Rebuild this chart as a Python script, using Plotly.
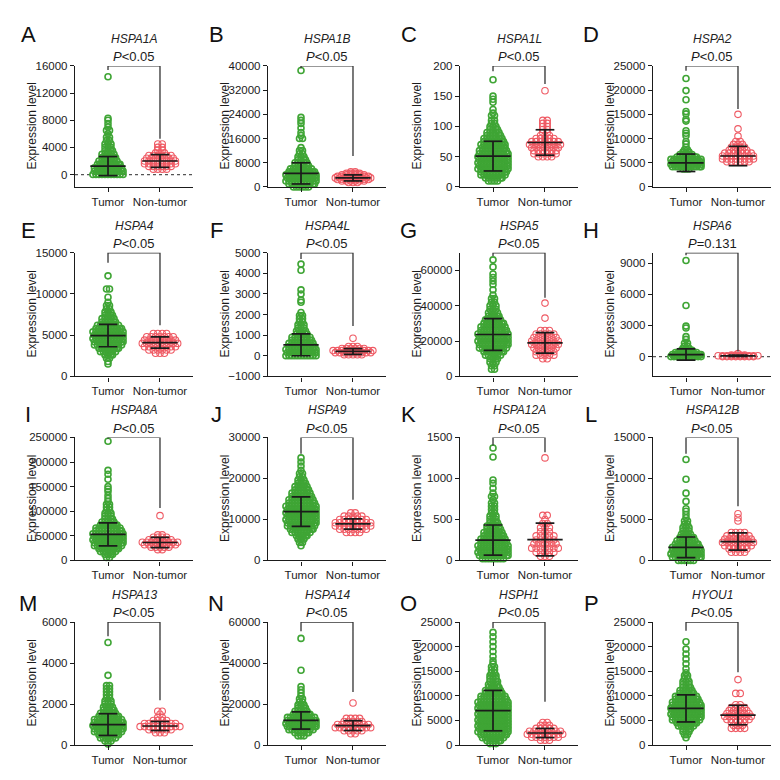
import plotly.graph_objects as go

W = H = 780
FONT = "Liberation Sans, Arial, sans-serif"

LETTERS = list("ABCDEFGHIJKLMNOP")
GENES = ["HSPA1A", "HSPA1B", "HSPA1L", "HSPA2", "HSPA4", "HSPA4L", "HSPA5", "HSPA6",
         "HSPA8A", "HSPA9", "HSPA12A", "HSPA12B", "HSPA13", "HSPA14", "HSPH1", "HYOU1"]
P_TEXT = ["&lt;0.05"] * 7 + ["=0.131"] + ["&lt;0.05"] * 8
CATEGORIES = ["Tumor", "Non-tumor"]

Y_MIN = [-1830, 0, 0, 0, 0, -1000, 0, -1900, 0, 0, 0, 0, 0, 0, 0, 0]
Y_MAX = [16000, 40000, 200, 25000, 15000, 5000, 70000, 10000, 250000, 30000, 1500, 15000, 6000, 60000, 25000, 25000]
Y_DTICK = [4000, 8000, 50, 5000, 5000, 1000, 20000, 3000, 50000, 10000, 500, 5000, 2000, 20000, 5000, 5000]
ZERO_LINE = [True, False, False, False, False, False, False, True, False, False, False, False, False, False, False, False]

TUMOR_MEAN = [1250, 4500, 51, 5000, 4950, 530, 23700, 200, 53000, 11900, 248, 1600, 1000, 12000, 7000, 7450]
TUMOR_SD = [1400, 3500, 24.5, 1800, 1360, 530, 9000, 540, 23500, 3600, 184, 1260, 530, 4200, 4100, 2750]
NORMAL_MEAN = [2000, 3000, 73.5, 6400, 4100, 210, 19000, 80, 36500, 8900, 255, 2300, 930, 9500, 2450, 6100]
NORMAL_SD = [940, 1000, 21, 2000, 680, 140, 5800, 60, 10500, 1250, 200, 1050, 220, 2400, 930, 1970]

LEG_TUMOR = [15400, 39200, 191, 24000, 13800, 4700, 68200, 9750, 247000, 26000, 1400, 13000, 5310, 55500, 23800, 23200]
LEG_NORMAL = [5260, 10200, 170, 16100, 6200, 1440, 44500, 500, 106700, 14800, 1320, 6600, 2190, 25900, 8800, 14800]

A_TUMOR = [(0, 11), (500, 11), (1000, 10), (1500, 9), (2000, 7), (2500, 6), (3000, 5), (3500, 4), (4000, 3), (4500, 3),
           (5000, 2), (5500, 2), (6000, 1), (6500, 2), (7000, 1), (7500, 1), (8000, 1), (8300, 1), (14400, 1)]
A_NORMAL = [(800, 4), (1200, 6), (1600, 8), (2000, 8), (2400, 7), (2800, 6), (3200, 3), (3600, 2), (4000, 2), (4500, 2)]
B_TUMOR = [(0, 6), (1000, 10), (2000, 11), (3000, 11), (4000, 11), (5000, 10), (6000, 8), (7000, 6), (8000, 5), (9000, 4),
           (10000, 3), (11000, 2), (12000, 2), (13000, 1), (16000, 2), (17000, 1), (18000, 1), (19500, 1), (21000, 1),
           (22000, 1), (23000, 1), (38500, 1)]
B_NORMAL = [(1500, 3), (2000, 6), (2500, 8), (3000, 9), (3500, 8), (4000, 6), (4500, 4), (5000, 2)]
C_TUMOR = [(10, 4), (15, 7), (20, 9), (25, 10), (30, 11), (35, 11), (40, 11), (45, 11), (50, 11), (55, 11), (60, 10),
           (65, 9), (70, 9), (75, 8), (80, 7), (85, 6), (90, 5), (95, 4), (100, 3), (105, 2), (110, 2), (118, 2),
           (122, 1), (128, 1), (140, 1), (145, 1), (150, 1), (177, 1)]
C_NORMAL = [(50, 4), (55, 6), (60, 6), (65, 7), (70, 8), (75, 7), (80, 5), (85, 3), (90, 2), (95, 2), (100, 2),
            (105, 2), (110, 2), (159, 1)]
D_TUMOR = [(3700, 3), (4200, 11), (4700, 11), (5200, 11), (5700, 11), (6200, 8), (6700, 5), (7200, 3), (7700, 2),
           (8200, 1), (8900, 1), (9400, 1), (10600, 1), (11100, 1), (11600, 1), (13600, 1), (14000, 1), (15100, 1),
           (15600, 1), (18000, 1), (19900, 1), (22400, 1)]
D_NORMAL = [(5200, 6), (5800, 8), (6400, 8), (7000, 7), (7600, 5), (8200, 4), (8800, 3), (9400, 2), (10500, 1),
            (12000, 1), (15000, 1)]
E_TUMOR = [(1500, 1), (1800, 1), (2200, 2), (2600, 4), (3000, 6), (3400, 8), (3800, 10), (4200, 11), (4600, 11),
           (5000, 11), (5400, 11), (5800, 10), (6200, 8), (6600, 6), (7000, 5), (7400, 4), (7800, 3), (8200, 2),
           (8600, 2), (9000, 1), (9600, 1), (10600, 2), (12200, 1)]
E_NORMAL = [(2800, 3), (3200, 6), (3600, 8), (4000, 9), (4400, 8), (4800, 7), (5200, 4)]
F_TUMOR = [(0, 11), (150, 11), (300, 11), (450, 10), (600, 9), (750, 8), (900, 7), (1050, 5), (1200, 4), (1350, 3),
           (1500, 3), (1650, 2), (1800, 2), (1950, 2), (2100, 1), (2600, 1), (2700, 1), (3000, 1), (3200, 1),
           (4150, 1), (4450, 1)]
F_NORMAL = [(50, 5), (150, 9), (250, 10), (350, 6), (450, 3), (850, 1)]
G_TUMOR = [(4000, 2), (6000, 2), (8000, 3), (10000, 4), (12000, 6), (14000, 8), (16000, 10), (18000, 11), (20000, 11),
           (22000, 11), (24000, 11), (26000, 10), (28000, 9), (30000, 8), (32000, 6), (34000, 5), (36000, 4),
           (38000, 3), (40000, 3), (42000, 2), (44000, 2), (46000, 1), (49000, 1), (52000, 1), (54000, 1),
           (56000, 1), (58000, 1), (62000, 1), (66000, 1)]
G_NORMAL = [(10000, 2), (12000, 5), (14000, 5), (16000, 6), (18000, 7), (20000, 7), (22000, 6), (24000, 5),
            (26000, 3), (33000, 1), (41500, 1)]
H_TUMOR = [(0, 11), (200, 11), (400, 8), (600, 5), (800, 3), (1000, 2), (1280, 2), (1660, 1), (1920, 1),
           (2750, 1), (2940, 1), (4920, 1), (9260, 1)]
H_NORMAL = [(0, 8), (80, 10), (160, 4), (300, 1)]
I_TUMOR = [(6000, 2), (12000, 4), (18000, 6), (24000, 8), (30000, 10), (36000, 11), (42000, 11), (48000, 11),
           (54000, 11), (60000, 10), (66000, 9), (72000, 7), (78000, 5), (84000, 4), (90000, 3), (96000, 3),
           (102000, 2), (108000, 2), (114000, 2), (120000, 1), (126000, 1), (132000, 1), (140000, 1), (145000, 1),
           (150000, 1), (165000, 1), (175000, 1), (183000, 1), (242000, 1)]
I_NORMAL = [(22000, 2), (27000, 5), (32000, 8), (37000, 9), (42000, 6), (47000, 4), (52000, 2), (91000, 1)]
J_TUMOR = [(3600, 1), (4400, 2), (5200, 3), (6000, 5), (6800, 7), (7600, 9), (8400, 10), (9200, 11), (10000, 11),
           (10800, 11), (11600, 11), (12400, 11), (13200, 11), (14000, 10), (14800, 9), (15600, 8), (16400, 7),
           (17200, 6), (18000, 5), (18800, 4), (19600, 3), (20400, 2), (21200, 2), (22000, 1), (23000, 1),
           (24000, 1), (25000, 1)]
J_NORMAL = [(6800, 4), (7600, 7), (8400, 9), (9200, 9), (10000, 7), (10800, 5), (11600, 2)]
K_TUMOR = [(20, 8), (60, 11), (100, 11), (140, 11), (180, 11), (220, 10), (260, 9), (300, 8), (340, 7), (380, 6),
           (420, 5), (460, 4), (500, 3), (540, 3), (580, 2), (620, 2), (660, 2), (700, 2), (740, 1), (780, 2),
           (820, 1), (880, 1), (940, 1), (980, 1), (1260, 1), (1370, 1)]
K_NORMAL = [(50, 3), (100, 5), (150, 7), (200, 6), (250, 5), (300, 5), (350, 3), (400, 3), (450, 2), (500, 1),
            (550, 2), (1250, 1)]
L_TUMOR = [(0, 6), (400, 11), (800, 11), (1200, 11), (1600, 10), (2000, 9), (2400, 7), (2800, 6), (3200, 4),
           (3600, 3), (4000, 3), (4400, 2), (4800, 2), (5200, 1), (5600, 1), (6000, 1), (6300, 1), (7200, 1),
           (8200, 1), (9900, 1), (12300, 1)]
L_NORMAL = [(1000, 4), (1400, 5), (1800, 7), (2200, 8), (2600, 7), (3000, 6), (3400, 4), (4800, 1), (5200, 1),
            (5700, 1)]
M_TUMOR = [(50, 1), (200, 3), (350, 6), (500, 8), (650, 10), (800, 11), (950, 11), (1100, 11), (1250, 10),
           (1400, 8), (1550, 6), (1700, 5), (1850, 4), (2000, 3), (2150, 3), (2300, 2), (2450, 2), (2600, 2),
           (2750, 2), (2900, 2), (3400, 1), (5000, 1)]
M_NORMAL = [(600, 3), (750, 6), (900, 10), (1050, 8), (1200, 4), (1350, 2), (1500, 1), (1650, 2)]
N_TUMOR = [(4500, 3), (6000, 6), (7500, 9), (9000, 11), (10500, 11), (12000, 11), (13500, 10), (15000, 7),
           (16500, 5), (18000, 4), (19500, 3), (21000, 2), (22500, 2), (24000, 1), (25500, 1), (27000, 1),
           (28500, 1), (36500, 1), (52000, 1)]
N_NORMAL = [(5500, 2), (7000, 5), (8500, 9), (10000, 8), (11500, 5), (13000, 4), (20500, 1)]
O_TUMOR = [(300, 3), (900, 6), (1500, 8), (2100, 10), (2700, 11), (3300, 11), (3900, 11), (4500, 11), (5100, 11),
           (5700, 11), (6300, 11), (6900, 11), (7500, 11), (8100, 11), (8700, 11), (9300, 10), (9900, 9),
           (10500, 7), (11100, 6), (11700, 5), (12300, 4), (12900, 4), (13500, 3), (14100, 3), (14700, 2),
           (15300, 2), (15900, 2), (16500, 1), (17100, 1), (18000, 1), (19000, 1), (20000, 1), (21000, 1),
           (22000, 1), (22900, 1)]
O_NORMAL = [(1000, 3), (1600, 7), (2200, 9), (2800, 8), (3400, 5), (4000, 3), (4600, 2)]
P_TUMOR = [(1500, 1), (2100, 2), (2700, 3), (3300, 4), (3900, 6), (4500, 8), (5100, 10), (5700, 11), (6300, 11),
           (6900, 11), (7500, 11), (8100, 11), (8700, 10), (9300, 9), (9900, 8), (10500, 6), (11100, 5),
           (11700, 4), (12300, 3), (12900, 3), (13500, 2), (14100, 2), (14700, 1), (15500, 1), (16500, 1),
           (17500, 1), (18500, 1), (19500, 1), (21000, 1)]
P_NORMAL = [(3400, 4), (4000, 3), (4600, 4), (5200, 6), (5800, 7), (6400, 6), (7000, 5), (7600, 4), (8200, 2),
            (10500, 2), (13300, 1)]

TUMOR_SETS = [A_TUMOR, B_TUMOR, C_TUMOR, D_TUMOR, E_TUMOR, F_TUMOR, G_TUMOR, H_TUMOR,
              I_TUMOR, J_TUMOR, K_TUMOR, L_TUMOR, M_TUMOR, N_TUMOR, O_TUMOR, P_TUMOR]
NORMAL_SETS = [A_NORMAL, B_NORMAL, C_NORMAL, D_NORMAL, E_NORMAL, F_NORMAL, G_NORMAL, H_NORMAL,
               I_NORMAL, J_NORMAL, K_NORMAL, L_NORMAL, M_NORMAL, N_NORMAL, O_NORMAL, P_NORMAL]

# layout geometry (pixels)
COL_AXIS = [67, 260, 452, 645]
PLOT_W = 118
ROW_TOP = [52.7, 242.5, 430, 617.5]
ROW_BOT = [175.7, 368, 555, 742.5]
LETTER_X = [20, 208, 401, 583]
LETTER_Y = [21, 220, 407, 599]
X_RANGE = [-0.635, 1.635]

GREEN = "#3fa535"
RED = "#ef5a64"
BLACK = "#1b1b1b"


def swarm(profile, center, dx, stagger):
    xs, ys = [], []
    for j, (v, n) in enumerate(profile):
        shift = dx / 2 if (stagger and n >= 4 and j % 2) else 0
        for i in range(n):
            xs.append(center + (i - (n - 1) / 2) * dx + (shift if i < n - 1 else 0))
            ys.append(v)
    return xs, ys


def errbar(center, m, sd):
    xs = [center - 0.34, center + 0.34, None, center - 0.18, center + 0.18, None,
          center - 0.18, center + 0.18, None, center, center]
    ys = [m, m, None, m + sd, m + sd, None, m - sd, m - sd, None, m - sd, m + sd]
    return xs, ys


fig = go.Figure()
layout = dict(width=W, height=H, margin=dict(l=0, r=0, t=0, b=0), showlegend=False,
              paper_bgcolor="white", plot_bgcolor="white", font=dict(family=FONT, size=12, color=BLACK))
annotations = []

for k in range(16):
    r, c = divmod(k, 4)
    xn = "x" if k == 0 else f"x{k+1}"
    yn = "y" if k == 0 else f"y{k+1}"
    x0 = COL_AXIS[c]
    x1 = x0 + PLOT_W
    top, bot = ROW_TOP[r], ROW_BOT[r]
    layout["xaxis" if k == 0 else f"xaxis{k+1}"] = dict(
        domain=[x0 / W, x1 / W], anchor=yn, range=X_RANGE, tickvals=[0, 1], ticktext=CATEGORIES,
        showline=True, linecolor=BLACK, linewidth=1.4, ticks="outside", ticklen=4, tickwidth=1.2,
        tickcolor=BLACK, showgrid=False, zeroline=False, tickfont=dict(size=11.5, color=BLACK), fixedrange=True)
    layout["yaxis" if k == 0 else f"yaxis{k+1}"] = dict(
        domain=[1 - bot / H, 1 - top / H], anchor=xn, range=[Y_MIN[k], Y_MAX[k]], tick0=0, dtick=Y_DTICK[k],
        tickformat="d", showline=True, linecolor=BLACK, linewidth=1.4, ticks="outside", ticklen=4,
        tickwidth=1.2, tickcolor=BLACK, showgrid=False, zeroline=False,
        tickfont=dict(size=11.5, color=BLACK), fixedrange=True)

    if ZERO_LINE[k]:
        fig.add_trace(go.Scatter(x=X_RANGE, y=[0, 0], mode="lines", xaxis=xn, yaxis=yn,
                                 line=dict(color="#555555", width=1.2, dash="dot"), hoverinfo="skip"))

    nx, ny = swarm(NORMAL_SETS[k], 1, 0.085, False)
    fig.add_trace(go.Scatter(x=nx, y=ny, mode="markers", xaxis=xn, yaxis=yn, cliponaxis=False,
                             marker=dict(symbol="circle-open", size=6.5, color=RED, line=dict(width=1.1))))
    tx, ty = swarm(TUMOR_SETS[k], 0, 0.058, True)
    fig.add_trace(go.Scatter(x=tx, y=ty, mode="markers", xaxis=xn, yaxis=yn, cliponaxis=False,
                             marker=dict(symbol="circle-open", size=6, color=GREEN, line=dict(width=1.6))))

    ex, ey = errbar(0, TUMOR_MEAN[k], TUMOR_SD[k])
    ex2, ey2 = errbar(1, NORMAL_MEAN[k], NORMAL_SD[k])
    fig.add_trace(go.Scatter(x=ex + [None] + ex2, y=ey + [None] + ey2, mode="lines", xaxis=xn, yaxis=yn,
                             line=dict(color=BLACK, width=1.7), hoverinfo="skip"))

    fig.add_trace(go.Scatter(x=[0, 0, 1, 1], y=[LEG_TUMOR[k], Y_MAX[k], Y_MAX[k], LEG_NORMAL[k]],
                             mode="lines", xaxis=xn, yaxis=yn, cliponaxis=False,
                             line=dict(color="#333333", width=1.3), hoverinfo="skip"))

    cx = x0 + 59
    annotations.append(dict(x=cx / W, y=1 - (top - 27.5) / H, xref="paper", yref="paper",
                            text=f"<i>{GENES[k]}</i>", showarrow=False, font=dict(size=12, color="#222222"),
                            xanchor="center", yanchor="middle"))
    annotations.append(dict(x=cx / W, y=1 - (top - 9.5) / H, xref="paper", yref="paper",
                            text=f"<i>P</i>{P_TEXT[k]}", showarrow=False, font=dict(size=13, color=BLACK),
                            xanchor="center", yanchor="middle"))
    annotations.append(dict(x=(x0 - 43) / W, y=1 - ((top + bot) / 2) / H, xref="paper", yref="paper",
                            text="Expression level", textangle=-90, showarrow=False,
                            font=dict(size=12, color=BLACK), xanchor="center", yanchor="middle"))
    annotations.append(dict(x=LETTER_X[c] / W, y=1 - LETTER_Y[r] / H, xref="paper", yref="paper",
                            text=LETTERS[k], showarrow=False, font=dict(size=22, color="#111111"),
                            xanchor="center", yanchor="middle"))

layout["annotations"] = annotations
fig.update_layout(**layout)
fig.write_html("out.html")
